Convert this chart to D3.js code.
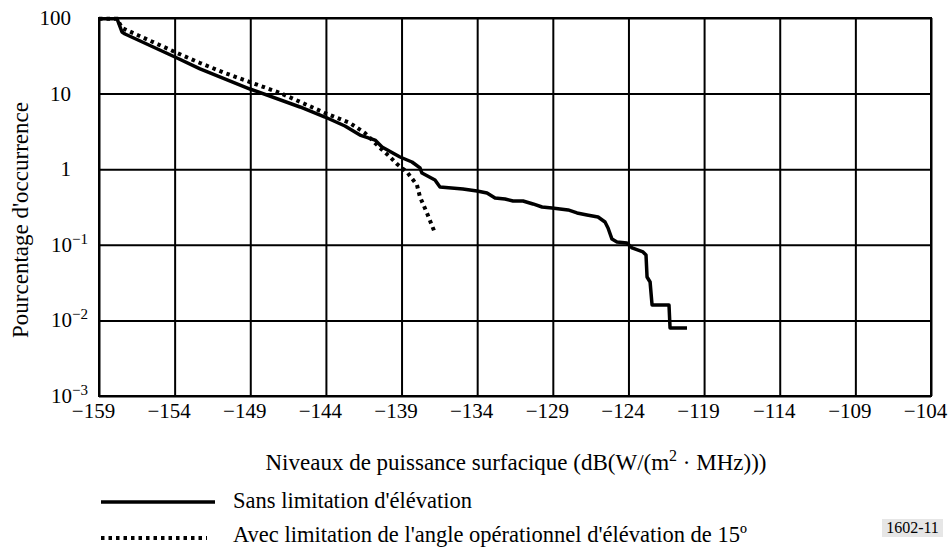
<!DOCTYPE html>
<html>
<head>
<meta charset="utf-8">
<script src="https://cdn.jsdelivr.net/npm/d3@7"></script>
<style>
  body { margin: 0; background: #fff; }
</style>
</head>
<body>
<svg id="chart" width="949" height="549"></svg>
<script>
const FONT = '"Liberation Serif"';

// tick values and labels
const xTicks = [-159, -154, -149, -144, -139, -134, -129, -124, -119, -114, -109, -104];
const yTicks = [100, 10, 1, 0.1, 0.01, 0.001];
const yTickBase = ["100", "10", "1", "10", "10", "10"];
const yTickExp = ["", "", "", "\u22121", "\u22122", "\u22123"];

// "Sans limitation d'élévation"
const solidDb = [-159.0, -157.81, -157.48, -157.28, -153.98, -152.32, -149.02, -145.71, -144.06, -142.74,
  -141.75, -140.75, -140.29, -139.10, -138.31, -137.78, -137.65, -136.79, -136.46, -134.94,
  -134.01, -133.35, -132.82, -132.16, -131.63, -130.97, -130.31, -129.71, -129.05, -128.52,
  -127.99, -127.40, -126.74, -126.01, -125.55, -125.35, -125.09, -124.76, -124.10, -123.76,
  -123.04, -122.84, -122.77, -122.57, -122.44, -121.32, -121.25, -120.13];
const solidPct = [98, 98, 65.3, 61.4, 30.5, 21.2, 11.5, 6.65, 4.9, 3.73,
  2.83, 2.43, 1.97, 1.45, 1.245, 1.04, 0.89, 0.72, 0.58, 0.547,
  0.515, 0.484, 0.416, 0.404, 0.38, 0.38, 0.347, 0.316, 0.307, 0.298,
  0.289, 0.264, 0.248, 0.233, 0.2, 0.167, 0.119, 0.109, 0.106, 0.0908,
  0.0804, 0.0733, 0.0375, 0.0322, 0.016, 0.016, 0.00793, 0.00793];

// "Avec limitation de l'angle opérationnel d'élévation de 15º"
const dottedDb = [-159.0, -157.81, -157.48, -153.98, -152.32, -150.67, -149.02, -147.03, -144.06, -142.41,
  -141.42, -140.42, -139.76, -139.30, -138.64, -137.98, -137.78, -137.32, -136.79];
const dottedPct = [98, 98, 73.8, 35.5, 25.4, 18.7, 14.2, 10.2, 5.54, 4.08,
  3.01, 1.91, 1.45, 1.17, 0.918, 0.618, 0.429, 0.264, 0.143];

const svg = d3.select("#chart");
const L = 99, R = 931, T = 18, B = 396;

const x = d3.scaleLinear().domain([-159, -104]).range([L, R]);
const y = d3.scaleLog().domain([0.001, 100]).range([B, T]);

function txt(sel) {
  return sel.append("text").style("font-family", FONT).attr("fill", "#000");
}

// grid + x labels (digits centred on the tick, minus hangs left)
const xAxis = svg.append("g")
  .attr("transform", `translate(0,${B})`)
  .call(d3.axisBottom(x).tickValues(xTicks).tickSizeInner(-(B - T)).tickSizeOuter(0)
    .tickPadding(7).tickFormat(d => String(d).replace("-", "\u2212")));
xAxis.select(".domain").remove();
xAxis.selectAll("line").attr("stroke", "#000").attr("stroke-width", 2);
xAxis.selectAll("text").style("font-family", FONT).attr("font-size", 21)
  .attr("fill", "#000").attr("dx", -6);

const yAxis = svg.append("g")
  .attr("transform", `translate(${L},0)`)
  .call(d3.axisLeft(y).tickValues(yTicks).tickSizeInner(-(R - L)).tickSizeOuter(0).tickFormat(""));
yAxis.select(".domain").remove();
yAxis.selectAll("line").attr("stroke", "#000").attr("stroke-width", 2);

// y labels with superscripts
yTicks.forEach((v, i) => {
  const yy = y(v);
  txt(svg).attr("x", yTickExp[i] ? 72 : 71).attr("y", yy + 7)
    .attr("text-anchor", "end").attr("font-size", 21).text(yTickBase[i]);
  if (yTickExp[i]) {
    txt(svg).attr("x", 72).attr("y", yy - 1)
      .attr("font-size", 15).text(yTickExp[i]);
  }
});

// frame
svg.append("rect").attr("x", L).attr("y", T).attr("width", R - L).attr("height", B - T)
  .attr("fill", "none").attr("stroke", "#000").attr("stroke-width", 2);

const line = d3.line().x(d => x(d[0])).y(d => y(d[1]));

svg.append("path")
  .attr("d", line(dottedDb.map((d, i) => [d, dottedPct[i]])))
  .attr("fill", "none").attr("stroke", "#000").attr("stroke-width", 4)
  .attr("stroke-dasharray", "3.5,4");

svg.append("path")
  .attr("d", line(solidDb.map((d, i) => [d, solidPct[i]])))
  .attr("fill", "none").attr("stroke", "#000").attr("stroke-width", 3.5)
  .attr("stroke-linejoin", "round");

// axis titles
txt(svg).attr("transform", "translate(28,220) rotate(-90)")
  .attr("text-anchor", "middle").attr("font-size", 23).text("Pourcentage d'occurrence");

const xt = txt(svg).attr("x", 516).attr("y", 470)
  .attr("text-anchor", "middle").attr("font-size", 23);
xt.append("tspan").text("Niveaux de puissance surfacique (dB(W/(m");
xt.append("tspan").attr("font-size", 16).attr("dy", -9).text("2");
xt.append("tspan").attr("dy", 9).text(" \u00b7 MHz)))");

// legend
svg.append("line").attr("x1", 101).attr("x2", 215).attr("y1", 502).attr("y2", 502)
  .attr("stroke", "#000").attr("stroke-width", 3.5);
txt(svg).attr("x", 233).attr("y", 508).attr("font-size", 22.5).text("Sans limitation d'\u00e9l\u00e9vation");

svg.append("line").attr("x1", 101).attr("x2", 207).attr("y1", 538).attr("y2", 538)
  .attr("stroke", "#000").attr("stroke-width", 4).attr("stroke-dasharray", "3.5,4");
txt(svg).attr("x", 233).attr("y", 542).attr("font-size", 22.5)
  .text("Avec limitation de l'angle op\u00e9rationnel d'\u00e9l\u00e9vation de 15\u00ba");

svg.append("rect").attr("x", 882).attr("y", 519).attr("width", 61).attr("height", 18).attr("fill", "#e6e6e6");
txt(svg).attr("x", 912.5).attr("y", 533).attr("text-anchor", "middle")
  .attr("font-size", 16).text("1602-11");
</script>
</body>
</html>
